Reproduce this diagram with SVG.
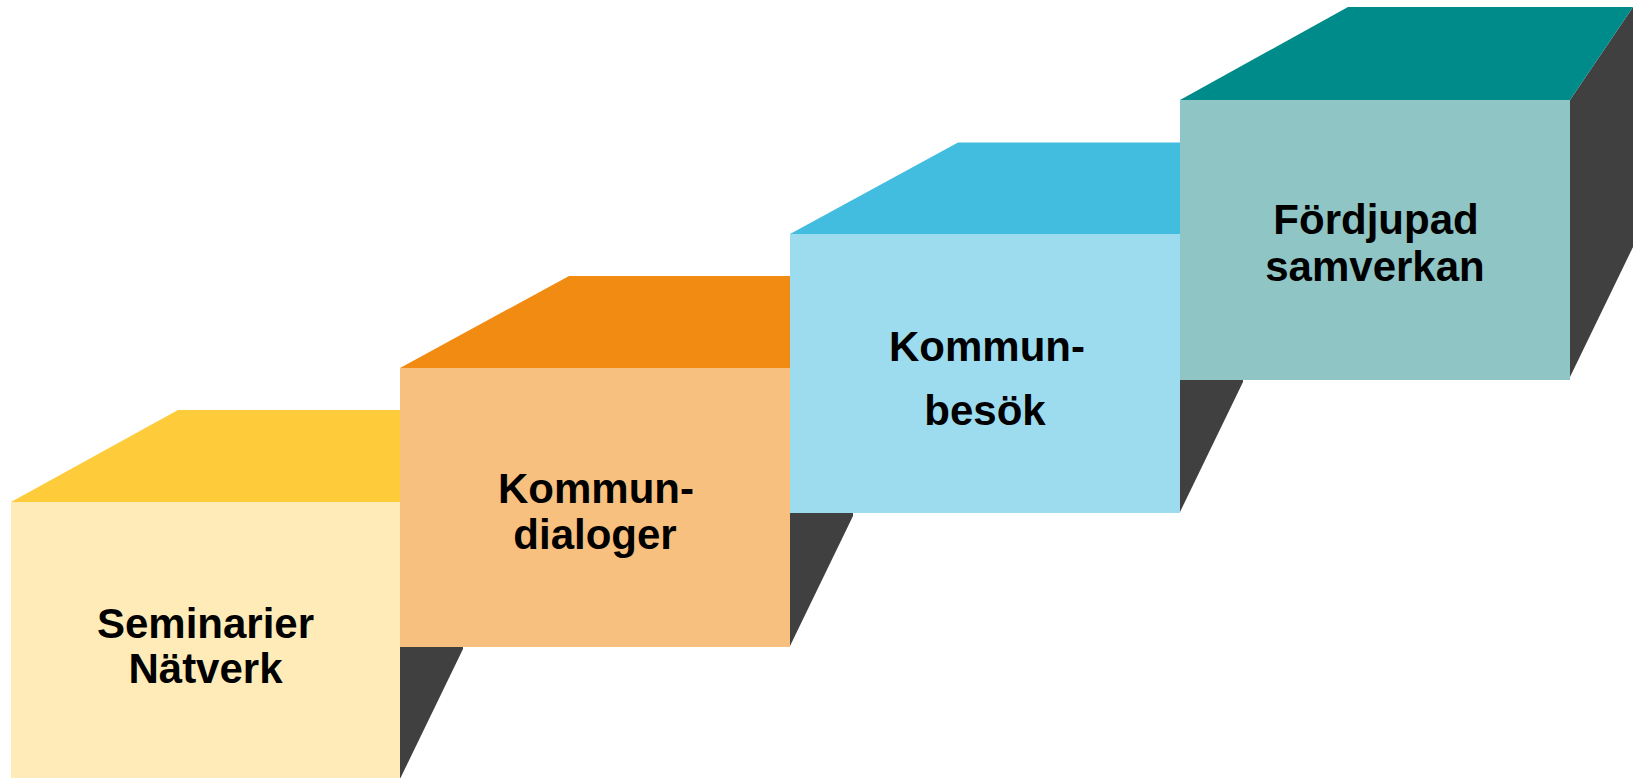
<svg xmlns="http://www.w3.org/2000/svg" width="1634" height="778" viewBox="0 0 1634 778">
<style>
.side{fill:#404040}
.lbl{font-family:"Liberation Sans",Arial,sans-serif;font-weight:bold;font-size:42px;fill:#000;text-anchor:middle}
</style>
<rect width="1634" height="778" fill="#fff"/>
<g id="box1">
<polygon class="side" points="400,502 463,409 463,649 400,779"/>
<polygon points="11,502 178,410 420,410 420,502" fill="#FECB3B"/>
<rect x="11" y="502" width="389" height="276" fill="#FEEBB7"/>
<text class="lbl" x="205.5" y="638">Seminarier</text>
<text class="lbl" x="205.5" y="683">Nätverk</text>
</g>
<g id="box2">
<polygon class="side" points="790,368 853,276 853,516 790,646"/>
<polygon points="400,368 569,276 810,276 810,368" fill="#F28B11"/>
<rect x="400" y="368" width="390" height="279" fill="#F8C07F"/>
<text class="lbl" x="596" y="503">Kommun-</text>
<text class="lbl" x="595" y="549">dialoger</text>
</g>
<g id="box3">
<polygon class="side" points="1180,234 1243,142 1243,382 1180,512"/>
<polygon points="790,234 958,142.5 1200,142.5 1200,234" fill="#42BDE0"/>
<rect x="790" y="234" width="390" height="279" fill="#9CDCEE"/>
<text class="lbl" x="987" y="361">Kommun-</text>
<text class="lbl" x="985" y="425">besök</text>
</g>
<g id="box4">
<polygon class="side" points="1570,100 1633,7 1633,247 1570,377"/>
<polygon points="1180,100 1348,7 1633,7 1570,100" fill="#008B8B"/>
<rect x="1180" y="100" width="390" height="280" fill="#8FC5C5"/>
<text class="lbl" x="1376" y="234">Fördjupad</text>
<text class="lbl" x="1375" y="281">samverkan</text>
</g>
<g id="connectors"/>
</svg>
